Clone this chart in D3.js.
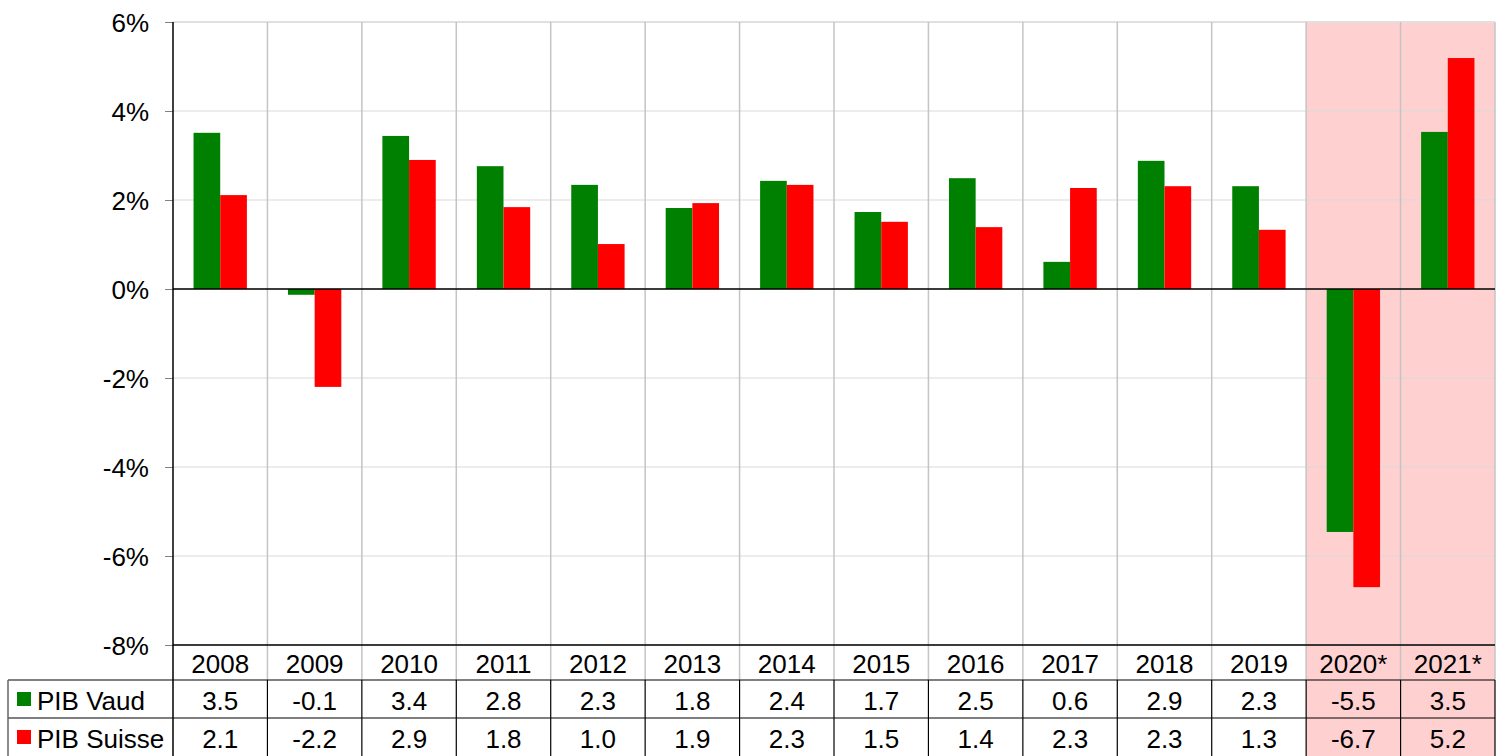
<!DOCTYPE html>
<html><head><meta charset="utf-8">
<script src="https://cdn.jsdelivr.net/npm/d3@7"></script>
<style>body{margin:0;background:#fff}svg{display:block}text{font-family:"Liberation Sans",Arial,sans-serif;fill:#000}</style>
</head><body>
<svg id="c" width="1499" height="756"></svg>
<script>
const years = ["2008","2009","2010","2011","2012","2013","2014","2015","2016","2017","2018","2019","2020*","2021*"];
// table labels (rounded)
const vaud = [3.5,-0.1,3.4,2.8,2.3,1.8,2.4,1.7,2.5,0.6,2.9,2.3,-5.5,3.5];
const suisse = [2.1,-2.2,2.9,1.8,1.0,1.9,2.3,1.5,1.4,2.3,2.3,1.3,-6.7,5.2];
// bar heights
const vaudBars = [3.51,-0.13,3.44,2.76,2.34,1.82,2.43,1.73,2.49,0.61,2.88,2.31,-5.46,3.53];
const suisseBars = [2.11,-2.2,2.9,1.84,1.01,1.93,2.34,1.51,1.39,2.27,2.31,1.33,-6.7,5.19];
const yTicks = [6,4,2,0,-2,-4,-6,-8];
const seriesNames = ["PIB Vaud","PIB Suisse"];
const seriesColors = ["#008000","#ff0000"];
const shaded = ["2020*","2021*"];

const svg = d3.select("#c");
const L=173, R=1495, T=22, B=645;
const rowY=[645,680,718,756];
const FS=26;
const x = d3.scaleBand().domain(years).range([L,R]).padding(0);
const y = d3.scaleLinear().domain([-8,6]).range([B,T]);
const x1 = d3.scaleBand().domain([0,1]).range([0,x.bandwidth()]).paddingInner(0).paddingOuter(0.77);

// shading
svg.selectAll("rect.sh").data(shaded).join("rect")
  .attr("x",d=>x(d)).attr("y",T).attr("width",x.bandwidth()).attr("height",756-T)
  .attr("fill","#ffd0d0");

// horizontal gridlines
svg.selectAll("line.hg").data(yTicks).join("line")
  .attr("x1",L).attr("x2",R).attr("y1",d=>y(d)).attr("y2",d=>y(d))
  .attr("stroke",d=>d===6?"#e0e0e0":"#d9d9d9").attr("stroke-width",d=>d===6?2:1);
// vertical gridlines in plot + header
svg.selectAll("line.vg").data(years.slice(1).concat(["end"])).join("line")
  .attr("x1",d=>d==="end"?R:x(d)).attr("x2",d=>d==="end"?R:x(d))
  .attr("y1",T).attr("y2",rowY[1]).attr("stroke","#c4c4c4").attr("stroke-width",1.5);

// bars
const data = years.map((yr,i)=>({yr,vals:[vaudBars[i],suisseBars[i]]}));
const g = svg.selectAll("g.grp").data(data).join("g").attr("transform",d=>`translate(${x(d.yr)},0)`);
g.selectAll("rect").data(d=>d.vals.map((v,k)=>({v,k}))).join("rect")
  .attr("x",d=>x1(d.k)).attr("width",x1.bandwidth())
  .attr("y",d=>y(Math.max(0,d.v))).attr("height",d=>Math.abs(y(d.v)-y(0)))
  .attr("fill",d=>seriesColors[d.k]);

// zero line
svg.append("line").attr("x1",L).attr("x2",R).attr("y1",y(0)).attr("y2",y(0)).attr("stroke","#000").attr("stroke-width",1.5);

// y axis
const ya = svg.append("g").attr("transform",`translate(${L},0)`)
  .call(d3.axisLeft(y).tickValues(yTicks).tickFormat(d=>d+"%").tickSize(8).tickPadding(16));
ya.select(".domain").remove();
ya.selectAll(".tick line").attr("stroke","#808080");
ya.selectAll(".tick text").attr("font-size",FS).attr("font-family","Liberation Sans, Arial, sans-serif").attr("dy","0.36em");
svg.append("line").attr("x1",L).attr("x2",L).attr("y1",T).attr("y2",756).attr("stroke","#000").attr("stroke-width",1.5);

// table
svg.append("line").attr("x1",L).attr("x2",R).attr("y1",rowY[0]).attr("y2",rowY[0]).attr("stroke","#000").attr("stroke-width",1.5);
[rowY[1],rowY[2]].forEach(yy=>svg.append("line").attr("x1",8).attr("x2",R).attr("y1",yy).attr("y2",yy).attr("stroke","#000").attr("stroke-width",1.2));
svg.append("line").attr("x1",8).attr("x2",8).attr("y1",rowY[1]).attr("y2",756).attr("stroke","#666").attr("stroke-width",1.5);
svg.selectAll("line.tv").data(years.slice(1).concat(["end"])).join("line")
  .attr("x1",d=>d==="end"?R:x(d)).attr("x2",d=>d==="end"?R:x(d))
  .attr("y1",rowY[1]).attr("y2",756).attr("stroke","#000").attr("stroke-width",1.2);

// header labels
svg.selectAll("text.hd").data(years).join("text")
  .attr("x",d=>x(d)+x.bandwidth()/2).attr("y",673).attr("text-anchor","middle").attr("font-size",FS).text(d=>d);
// values + legend
[vaud,suisse].forEach((arr,k)=>{
  svg.selectAll("text.v"+k).data(arr).join("text")
    .attr("x",(d,i)=>x(years[i])+x.bandwidth()/2).attr("y",k===0?710:748)
    .attr("text-anchor","middle").attr("font-size",FS).text(d=>d.toFixed(1));
  svg.append("rect").attr("x",17).attr("y",k===0?692:730).attr("width",14).attr("height",14).attr("fill",seriesColors[k]);
  svg.append("text").attr("x",37).attr("y",k===0?710:748).attr("font-size",FS).text(seriesNames[k]);
});
</script>
</body></html>
